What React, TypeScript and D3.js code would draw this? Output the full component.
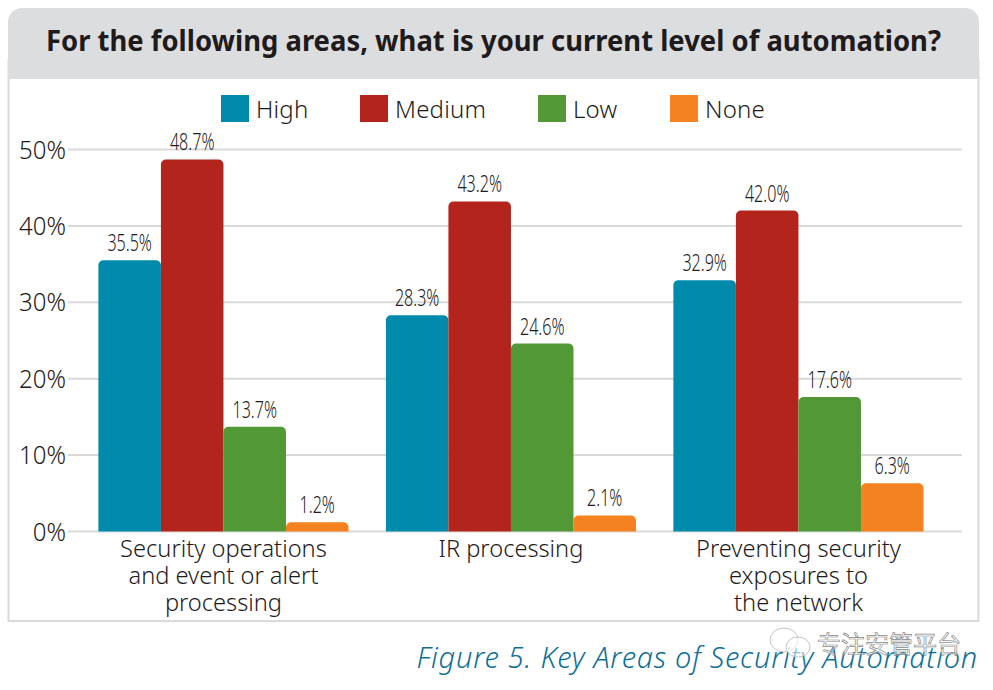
import { useEffect, useRef } from "react";
import * as d3 from "d3";

const W = 993;
const H = 690;

const title = "For the following areas, what is your current level of automation?";
const caption = "Figure 5. Key Areas of Security Automation";
const watermark = "专注安管平台";

const areas = ["ops", "ir", "exposure"];
const areaLabels = [
  ["Security operations", "and event or alert", "processing"],
  ["IR processing"],
  ["Preventing security", "exposures to", "the network"],
];
const levels = ["High", "Medium", "Low", "None"];
const levelColours = ["#008bac", "#b2241c", "#529836", "#f58220"];
const yTicks = [0, 10, 20, 30, 40, 50];

const high = [35.5, 28.3, 32.9];
const medium = [48.7, 43.2, 42.0];
const low = [13.7, 24.6, 17.6];
const none = [1.2, 2.1, 6.3];
const series = [high, medium, low, none];

const legendX = [221, 360, 538, 670];

const FONT = "'Noto Sans', 'Open Sans', sans-serif";
const INK = "#1f1b1c";

// rect with only the top corners rounded
const topRounded = (x: number, y: number, w: number, h: number, r: number) => {
  const p = d3.path();
  const rr = Math.min(r, h);
  p.moveTo(x, y + h);
  p.lineTo(x, y + rr);
  p.arcTo(x, y, x + rr, y, rr);
  p.lineTo(x + w - rr, y);
  p.arcTo(x + w, y, x + w, y + rr, rr);
  p.lineTo(x + w, y + h);
  p.closePath();
  return p.toString();
};

const App = () => {
  const svgRef = useRef<SVGSVGElement>(null);

  useEffect(() => {
    const svg = d3.select(svgRef.current);
    svg.selectAll("*").remove();

    const yScale = d3.scaleLinear().domain([0, 50]).range([531.5, 149.5]);
    const xScale = d3
      .scaleBand()
      .domain(areas)
      .range([79.7, 942.2])
      .paddingInner(0.13)
      .paddingOuter(0.065);
    const barScale = d3.scaleBand().domain(levels).range([0, xScale.bandwidth()]);

    // frame and title band
    svg
      .append("rect")
      .attr("x", 8.5)
      .attr("y", 60)
      .attr("width", 970)
      .attr("height", 561)
      .attr("fill", "#fff")
      .attr("stroke", "#d9d9d9")
      .attr("stroke-width", 2);
    svg
      .append("path")
      .attr("d", topRounded(8, 8, 971, 71, 14))
      .attr("fill", "#dcddde");
    svg
      .append("text")
      .attr("x", 493.5)
      .attr("y", 51)
      .attr("text-anchor", "middle")
      .attr("font-size", 29)
      .attr("font-weight", 700)
      .attr("fill", INK)
      .attr("textLength", 895)
      .attr("lengthAdjust", "spacingAndGlyphs")
      .text(title);

    // legend
    levels.forEach((level, i) => {
      svg
        .append("rect")
        .attr("x", legendX[i])
        .attr("y", 95)
        .attr("width", 28)
        .attr("height", 27)
        .attr("fill", levelColours[i]);
      svg
        .append("text")
        .attr("x", legendX[i] + 35)
        .attr("y", 118)
        .attr("font-size", 24)
        .attr("font-weight", 300)
        .attr("letter-spacing", 0.2)
        .attr("fill", INK)
        .text(level);
    });

    // grid
    svg
      .append("g")
      .selectAll("line")
      .data(yTicks)
      .join("line")
      .attr("x1", 68)
      .attr("x2", 962)
      .attr("y1", (d) => yScale(d))
      .attr("y2", (d) => yScale(d))
      .attr("stroke", "#d9d9d9")
      .attr("stroke-width", 2);

    // y labels
    svg
      .append("g")
      .selectAll("text")
      .data(yTicks)
      .join("text")
      .attr("transform", (d) => `translate(66,${yScale(d) + 9}) scale(0.96,1)`)
      .attr("text-anchor", "end")
      .attr("font-size", 25)
      .attr("font-weight", 300)
      .attr("fill", INK)
      .text((d) => `${d}%`);

    // bars and value labels
    levels.forEach((level, s) => {
      const values = series[s];
      svg
        .append("g")
        .selectAll("path")
        .data(values)
        .join("path")
        .attr("d", (d, i) =>
          topRounded(
            xScale(areas[i]) + barScale(level),
            yScale(d),
            barScale.bandwidth(),
            yScale(0) - yScale(d),
            5
          )
        )
        .attr("fill", levelColours[s]);

      values.forEach((d, i) => {
        const cx = xScale(areas[i]) + barScale(level) + barScale.bandwidth() / 2;
        const cy = yScale(d) - 9;
        svg
          .append("text")
          .attr("transform", `translate(${cx},${cy}) scale(0.7,1)`)
          .attr("text-anchor", "middle")
          .attr("font-size", 23)
          .attr("font-weight", 300)
          .attr("fill", INK)
          .text(`${d.toFixed(1)}%`);
      });
    });

    // category labels
    areas.forEach((area, i) => {
      const cx = xScale(area) + xScale.bandwidth() / 2;
      areaLabels[i].forEach((line, j) => {
        svg
          .append("text")
          .attr("transform", `translate(${cx},${556.5 + j * 27}) scale(0.965,1)`)
          .attr("text-anchor", "middle")
          .attr("font-size", 24.5)
          .attr("font-weight", 300)
          .attr("fill", INK)
          .text(line);
      });
    });

    // caption
    svg
      .append("text")
      .attr("x", 978)
      .attr("y", 668)
      .attr("text-anchor", "end")
      .attr("font-size", 29)
      .attr("font-style", "italic")
      .attr("font-weight", 300)
      .attr("letter-spacing", 0.75)
      .attr("fill", "#0f6f96")
      .text(caption);

    // watermark
    const bubbles = [
      { cx: 784, cy: 640, rx: 14, ry: 12 },
      { cx: 798, cy: 647, rx: 12, ry: 10 },
    ];
    svg
      .append("g")
      .selectAll("ellipse")
      .data(bubbles)
      .join("ellipse")
      .attr("cx", (d) => d.cx)
      .attr("cy", (d) => d.cy)
      .attr("rx", (d) => d.rx)
      .attr("ry", (d) => d.ry)
      .attr("fill", "#fff")
      .attr("fill-opacity", 0.55)
      .attr("stroke", "#c4c4c4");
    svg
      .append("text")
      .attr("x", 817)
      .attr("y", 653)
      .attr("font-family", "'Noto Sans CJK SC'")
      .attr("font-size", 24)
      .attr("fill", "#ffffff")
      .attr("fill-opacity", 0.55)
      .attr("stroke", "#8a8a8a")
      .attr("stroke-width", 0.7)
      .text(watermark);
  }, []);

  return (
    <svg
      ref={svgRef}
      width={W}
      height={H}
      style={{ position: "absolute", left: 0, top: 0, fontFamily: FONT }}
    ></svg>
  );
};

export default App;
